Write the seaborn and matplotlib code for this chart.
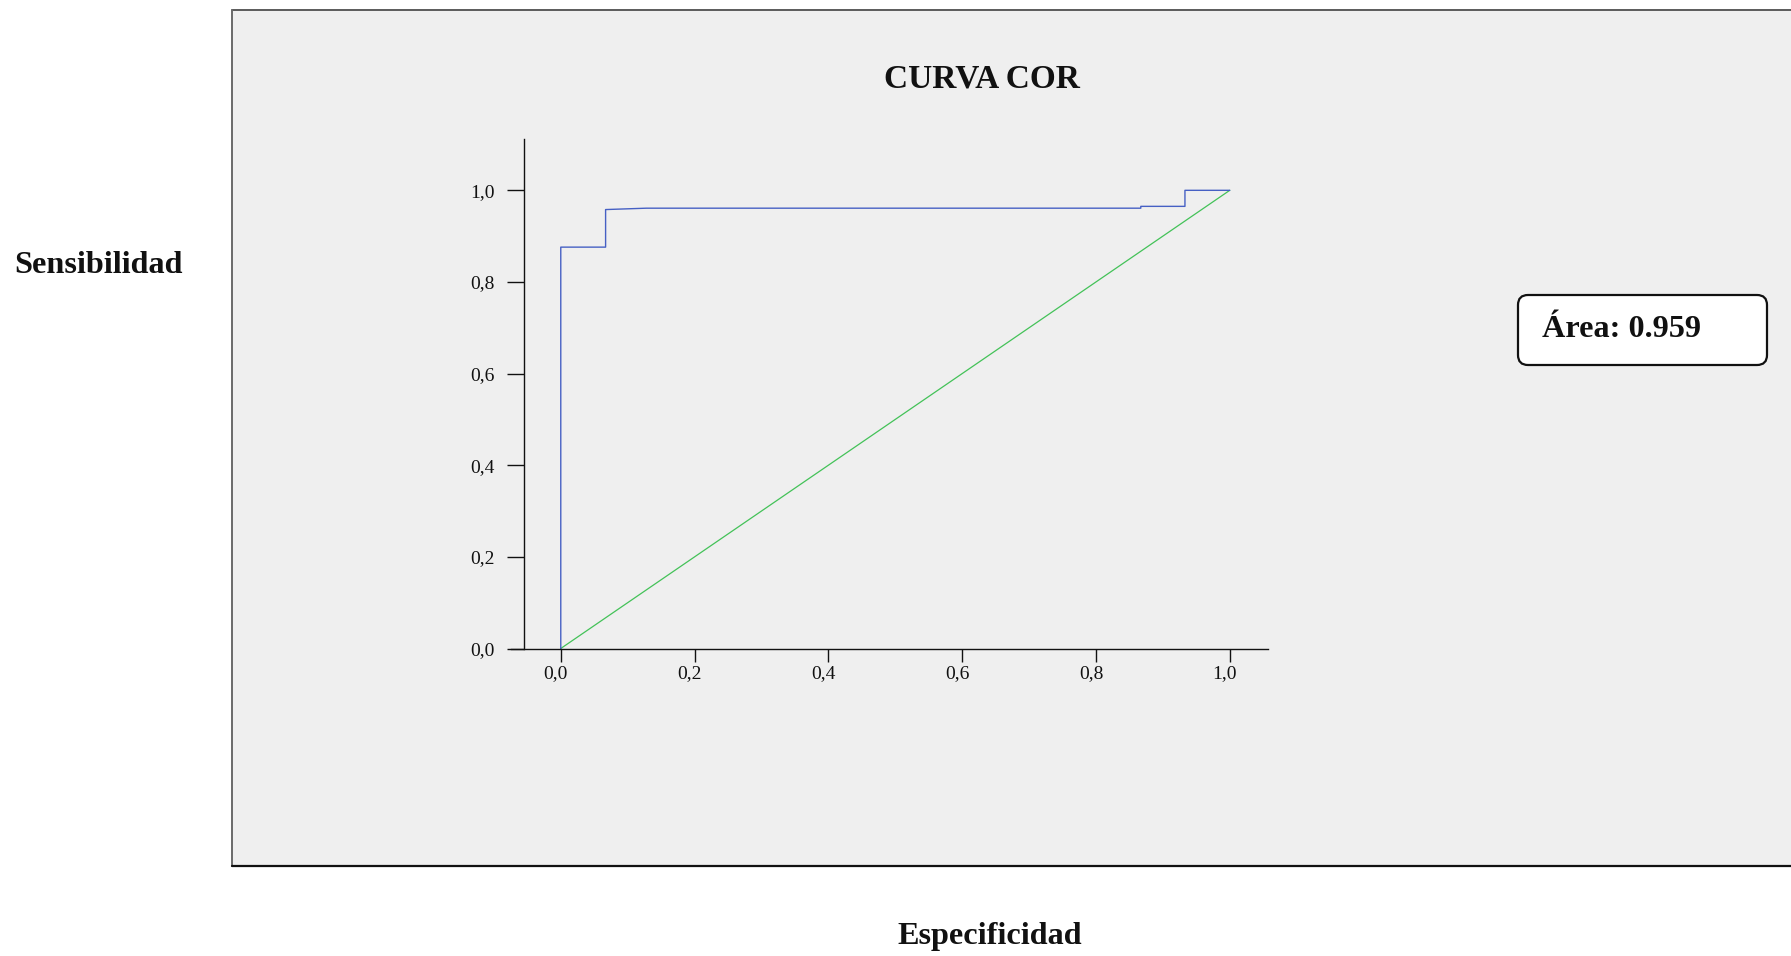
import numpy as np
import pandas as pd
import matplotlib
matplotlib.use("Agg")
import matplotlib.pyplot as plt
import matplotlib.transforms as mtransforms
from matplotlib.patches import Rectangle, FancyBboxPatch
from matplotlib.lines import Line2D
from matplotlib.ticker import FuncFormatter
import seaborn as sns

# ROC curve points (1 - specificity, sensitivity)
fpr = [0.0, 0.0, 0.067, 0.067, 0.128, 0.867, 0.867, 0.933, 0.933, 1.0]
tpr = [0.0, 0.876, 0.876, 0.958, 0.961, 0.961, 0.965, 0.965, 1.0, 1.0]
# reference diagonal
diag_x = [0.0, 1.0]
diag_y = [0.0, 1.0]
tick_values = [0.0, 0.2, 0.4, 0.6, 0.8, 1.0]
auc_value = 0.959

title_text = "CURVA COR"
ylabel_text = "Sensibilidad"
xlabel_text = "Especificidad"

sns.set_theme(style="white")
plt.rcParams["font.family"] = ["Liberation Serif", "DejaVu Serif"]

W, H, DPI = 1791, 956, 100
fig = plt.figure(figsize=(W / DPI, H / DPI), dpi=DPI, facecolor="white")

# grey chart panel
px0, py_top, py_bot = 232.5, 10, 866
fig.patches.append(Rectangle((px0 / W, 1 - py_bot / H), 1 - px0 / W, (py_bot - py_top) / H,
                             transform=fig.transFigure, facecolor="#efefef",
                             edgecolor="none", zorder=-2))
fig.lines.append(Line2D([px0 / W, 1], [1 - py_top / H] * 2, transform=fig.transFigure,
                        color="#5a5a5a", lw=1.4, zorder=-1))
fig.lines.append(Line2D([px0 / W] * 2, [1 - py_top / H, 1 - py_bot / H], transform=fig.transFigure,
                        color="#6a6a6a", lw=1.4, zorder=-1))
fig.lines.append(Line2D([px0 / W, 1], [1 - py_bot / H] * 2, transform=fig.transFigure,
                        color="#111111", lw=1.6, zorder=-1))

ax = fig.add_axes([510.6 / W, 1 - 648.5 / H, 757.3 / W, 509.5 / H])
ax.set_facecolor("none")
ax.set_zorder(2)

sns.lineplot(x=diag_x, y=diag_y, ax=ax, color="#43c258", lw=0.9, sort=False, estimator=None)
sns.lineplot(x=fpr, y=tpr, ax=ax, color="#4660c4", lw=1.0, sort=False, estimator=None)

ax.set_xlim(-0.075, 1.057)
ax.set_ylim(0.0, 1.112)
ax.spines["top"].set_visible(False)
ax.spines["right"].set_visible(False)
ax.spines["left"].set_position(("data", -0.055))
for s in ("left", "bottom"):
    ax.spines[s].set_color("#111111")
    ax.spines[s].set_linewidth(1.0)

comma = FuncFormatter(lambda v, p: f"{v:.1f}".replace(".", ","))
ax.set_xticks(tick_values)
ax.set_yticks(tick_values)
ax.xaxis.set_major_formatter(comma)
ax.yaxis.set_major_formatter(comma)
ax.tick_params(axis="y", direction="out", length=12, width=1.0, color="#111111",
               pad=9, labelsize=14, labelcolor="#111111", left=True)
ax.tick_params(axis="x", direction="out", length=9, width=1.0, color="#111111",
               pad=3, labelsize=14, labelcolor="#111111", bottom=True)
ax.set_xlabel("")
ax.set_ylabel("")

shift = mtransforms.ScaledTranslation(-5 / DPI, 0, fig.dpi_scale_trans)
for lbl in ax.get_xticklabels():
    lbl.set_transform(lbl.get_transform() + shift)

fig.text(982 / W, 1 - 88 / H, title_text, ha="center", va="baseline",
         fontsize=24, fontweight="bold", color="#111111")
fig.text(14 / W, 1 - 273 / H, ylabel_text, ha="left", va="baseline",
         fontsize=23.2, fontweight="bold", color="#111111")
fig.text(990 / W, 1 - 944 / H, xlabel_text, ha="center", va="baseline",
         fontsize=23.2, fontweight="bold", color="#111111")

# area annotation box
box = FancyBboxPatch((1518 / DPI, (H - 365) / DPI), 249 / DPI, 70 / DPI,
                     boxstyle="round,pad=0,rounding_size=0.1",
                     transform=fig.dpi_scale_trans, facecolor="white",
                     edgecolor="#111111", lw=1.6, zorder=3)
fig.patches.append(box)
fig.text(1542 / DPI, (H - 337) / DPI, f"Área: {auc_value}", transform=fig.dpi_scale_trans,
         ha="left", va="baseline", fontsize=23.2, fontweight="bold", color="#111111", zorder=4)

fig.savefig("out.png", dpi=DPI, facecolor="white")
